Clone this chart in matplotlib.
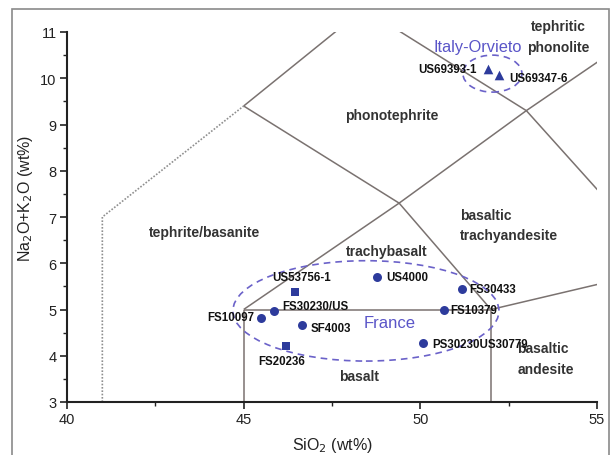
import matplotlib
matplotlib.use("Agg")
import matplotlib.pyplot as plt
from matplotlib.patches import Ellipse, Rectangle
from matplotlib.ticker import MultipleLocator

plt.rcParams['font.family'] = ['Liberation Sans', 'DejaVu Sans']

# ---- sample data (SiO2, Na2O+K2O) ----
circle_names = ["FS30230/US", "FS10097", "SF4003", "US4000", "FS30433", "FS10379", "PS30230US30779"]
circle_sio2 = [45.87, 45.49, 46.66, 48.77, 51.17, 50.67, 50.07]
circle_alk = [4.96, 4.82, 4.67, 5.70, 5.44, 5.00, 4.27]

square_names = ["US53756-1", "FS20236"]
square_sio2 = [46.45, 46.19]
square_alk = [5.38, 4.22]

tri_names = ["US69393-1", "US69347-6"]
tri_sio2 = [51.91, 52.23]
tri_alk = [10.21, 10.06]

# label offsets (points) and alignments
circle_off = [(6, 3.6), (-4.5, 0.7), (6, -2.2), (6.7, 0), (5.5, 0), (4.3, -0.7), (6.9, -0.5)]
circle_ha = ['left', 'right', 'left', 'left', 'left', 'left', 'left']
square_off = [(-16.5, 10.8), (-20, -10.8)]
square_ha = ['left', 'left']
tri_off = [(-7.7, 0), (7.2, -2)]
tri_ha = ['right', 'left']

# ---- TAS boundary lines (SiO2, alkali) ----
solid_lines = [
    ([45, 45], [3, 5]),
    ([45, 52], [5, 5]),
    ([52, 52], [3, 5]),
    ([52, 57], [5, 5.9]),
    ([45, 49.4, 52], [5, 7.3, 5]),
    ([49.4, 53, 57.6], [7.3, 9.3, 11.7]),
    ([45, 49.4], [9.4, 7.3]),
    ([45, 48.4], [9.4, 11.5]),
    ([48.4, 53, 57], [11.5, 9.3, 5.9]),
]
dotted_lines = [
    ([41, 41, 45], [3, 7, 9.4]),
]

fig = plt.figure(figsize=(6.14, 4.56), dpi=100)
fig.patches.append(Rectangle((12/614, -0.05), 597/614, 1.05 - 10/456,
                             transform=fig.transFigure, fill=False,
                             edgecolor='#8a8a8a', linewidth=1.2))
ax = fig.add_axes([67/614, 1 - 403/456, 530/614, 370/456])

line_col = '#7a7270'
for xs, ys in solid_lines:
    ax.plot(xs, ys, color=line_col, lw=1.1, solid_capstyle='butt')
for xs, ys in dotted_lines:
    ax.plot(xs, ys, color='#8f8f8f', lw=1.2, ls=(0, (1, 1)))

mcol = '#2d3b9c'
ax.scatter(circle_sio2, circle_alk, marker='o', s=42, color=mcol, zorder=5, linewidths=0)
ax.scatter(square_sio2, square_alk, marker='s', s=36, color=mcol, zorder=5, linewidths=0)
ax.scatter(tri_sio2, tri_alk, marker='^', s=48, color=mcol, zorder=5, linewidths=0)

lab_kw = dict(textcoords='offset points', fontsize=8.3, fontweight='bold',
              color='#111111', va='center', zorder=6, annotation_clip=False)
for names, xs, ys, offs, has in [(circle_names, circle_sio2, circle_alk, circle_off, circle_ha),
                                 (square_names, square_sio2, square_alk, square_off, square_ha),
                                 (tri_names, tri_sio2, tri_alk, tri_off, tri_ha)]:
    for n, x, y, o, h in zip(names, xs, ys, offs, has):
        ax.annotate(n, (x, y), xytext=o, ha=h, **lab_kw)

# group ellipses
ecol = '#6b62c9'
ax.add_patch(Ellipse((48.46, 4.97), 7.53, 2.17, fill=False, edgecolor=ecol,
                     lw=1.2, ls=(0, (4, 3)), zorder=4))
ax.add_patch(Ellipse((52.04, 10.10), 1.67, 0.80, fill=False, edgecolor=ecol,
                     lw=1.2, ls=(0, (4, 3)), zorder=4))
ax.text(49.12, 4.71, "France", color='#5a55c8', fontsize=12, ha='center', va='center')
ax.text(51.62, 10.68, "Italy-Orvieto", color='#5a55c8', fontsize=11.8, ha='center', va='center',
        clip_on=False)

# region labels
rkw = dict(fontsize=10, fontweight='bold', color='#333333', va='center', clip_on=False)
ax.text(53.9, 11.13, "tephritic", ha='center', **rkw)
ax.text(53.9, 10.68, "phonolite", ha='center', **rkw)
ax.text(49.19, 9.2, "phonotephrite", ha='center', **rkw)
ax.text(51.12, 7.04, "basaltic", ha='left', **rkw)
ax.text(51.12, 6.61, "trachyandesite", ha='left', **rkw)
ax.text(43.9, 6.67, "tephrite/basanite", ha='center', **rkw)
ax.text(49.06, 6.26, "trachybasalt", ha='center', **rkw)
ax.text(48.26, 3.57, "basalt", ha='center', **rkw)
ax.text(52.74, 4.16, "basaltic", ha='left', **rkw)
ax.text(52.74, 3.72, "andesite", ha='left', **rkw)

ax.set_xlim(40, 55)
ax.set_ylim(3, 11)
ax.spines['top'].set_visible(False)
ax.spines['right'].set_visible(False)
for s in ('left', 'bottom'):
    ax.spines[s].set_linewidth(1.5)
    ax.spines[s].set_color('#222222')
ax.xaxis.set_major_locator(MultipleLocator(5))
ax.xaxis.set_minor_locator(MultipleLocator(2.5))
ax.yaxis.set_major_locator(MultipleLocator(1))
ax.yaxis.set_minor_locator(MultipleLocator(0.5))
ax.tick_params(which='major', direction='out', length=5, width=1.2, labelsize=10.5,
               colors='#222222', pad=2.5)
ax.tick_params(which='minor', direction='out', length=3, width=1.0, colors='#222222')
ax.set_xlabel("SiO$_2$ (wt%)", fontsize=11.5, color='#222222', labelpad=6)
ax.set_ylabel("Na$_2$O+K$_2$O (wt%)", fontsize=11.5, color='#222222')
ax.yaxis.set_label_coords(-0.060, 0.554)

fig.savefig("out.png", dpi=100)
